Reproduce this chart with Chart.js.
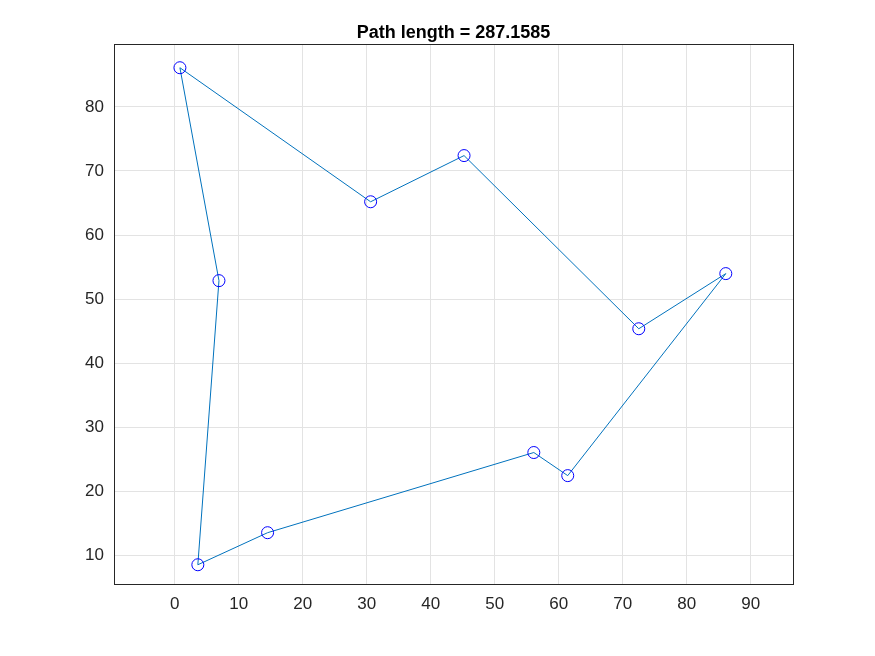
<!DOCTYPE html>
<html>
<head>
<script src="https://cdn.jsdelivr.net/npm/chart.js@4"></script>
<style>html,body{margin:0;background:#fff}canvas{display:block}</style>
</head>
<body>
<canvas id="c" width="875" height="656"></canvas>
<script>
// tour order, closed back to the first city
const xs = [0.8, 30.6, 45.2, 72.5, 86.1, 61.4, 56.1, 14.5, 3.6, 6.9, 0.8];
const ys = [86.1, 65.2, 72.4, 45.4, 54.0, 22.5, 26.1, 13.6, 8.6, 52.9, 86.1];
const xTicks = [0, 10, 20, 30, 40, 50, 60, 70, 80, 90];
const yTicks = [10, 20, 30, 40, 50, 60, 70, 80];
const titleText = 'Path length = 287.1585';

const pts = xs.map((x, i) => ({x: x, y: ys[i]}));

const boxPlugin = {
  id: 'box',
  afterDraw(chart) {
    const a = chart.chartArea, ctx = chart.ctx;
    ctx.save();
    ctx.strokeStyle = '#262626';
    ctx.lineWidth = 1;
    ctx.strokeRect(a.left + 0.5, a.top + 0.5, a.right - a.left, a.bottom - a.top);
    ctx.fillStyle = '#000';
    ctx.font = 'bold 18px Arial, "Liberation Sans"';
    ctx.textAlign = 'center';
    ctx.textBaseline = 'middle';
    ctx.fillText(titleText, (a.left + a.right) / 2, 33);
    ctx.restore();
  }
};

new Chart(document.getElementById('c'), {
  type: 'scatter',
  data: {
    datasets: [{
      data: pts,
      showLine: true,
      borderColor: '#0072BD',
      borderWidth: 1,
      pointBorderColor: '#0000FF',
      pointBackgroundColor: 'rgba(0,0,0,0)',
      pointRadius: ctx => ctx.dataIndex === xs.length - 1 ? 0 : 6,
      pointBorderWidth: 1
    }]
  },
  options: {
    responsive: false,
    animation: false,
    layout: {padding: {left: 0, right: 82, top: 44, bottom: 0}},
    plugins: {legend: {display: false}, tooltip: {enabled: false}},
    scales: {
      x: {
        type: 'linear', min: -9.5, max: 96.6,
        afterBuildTicks: s => { s.ticks = xTicks.map(v => ({value: v})); },
        afterFit: s => { s.height = 72; },
        grid: {color: '#e3e3e3', drawTicks: false},
        border: {color: '#262626'},
        ticks: {color: '#262626', padding: 10,
          font: {family: 'Arial, Liberation Sans', size: 17}}
      },
      y: {
        min: 5.6, max: 89.8,
        afterBuildTicks: s => { s.ticks = yTicks.map(v => ({value: v})); },
        afterFit: s => { s.width = 114; },
        grid: {color: '#e3e3e3', drawTicks: false},
        border: {color: '#262626'},
        ticks: {color: '#262626', padding: 10,
          font: {family: 'Arial, Liberation Sans', size: 17}}
      }
    }
  },
  plugins: [boxPlugin]
});
</script>
</body>
</html>
